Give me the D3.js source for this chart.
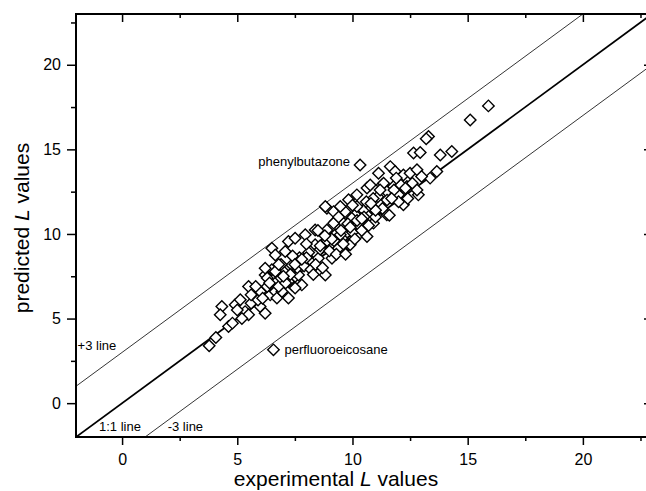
<!DOCTYPE html>
<html>
<head>
<meta charset="utf-8">
<script src="https://cdn.jsdelivr.net/npm/d3@7"></script>
<style>
body{margin:0;background:#fff;}
svg{display:block;overflow:hidden;}
text{font-family:"Liberation Sans",Arial,sans-serif;fill:#000;}
</style>
</head>
<body>
<script>
// experimental vs predicted L values
var expL=[3.78,4.07,4.33,4.26,4.62,4.79,4.91,5.13,5.34,5.49,5.70,5.85,6.21,5.99,6.43,6.65,6.72,7.01,6.50,6.21,7.37,7.51,7.22,5.49,6.72,6.57,
	6.50,6.65,8.82,8.89,7.22,7.51,7.95,8.38,9.25,9.68,10.12,9.97,9.25,9.83,8.67,9.11,7.08,6.21,6.65,7.37,7.66,7.80,7.22,8.24,7.95,8.52,7.51,6.94,8.38,8.82,9.39,9.54,10.26,
	10.33,11.13,11.64,11.85,12.21,12.50,12.80,12.86,8.82,9.18,9.47,9.83,10.19,10.63,10.77,11.28,11.49,11.93,12.36,11.20,11.49,10.99,10.48,10.19,9.97,10.33,9.61,9.47,9.90,10.63,9.18,8.89,10.91,11.93,12.21,
	11.78,13.37,13.66,12.00,11.35,12.65,12.94,13.30,13.20,13.81,14.31,15.11,15.90,
	5.0,5.2,5.6,5.9,6.0,6.3,6.1,6.8,6.9,7.1,7.3,7.6,7.7,7.9,8.1,8.2,8.4,8.6,8.7,8.9,9.0,9.2,9.3,9.5,9.6,9.8,10.0,10.1,10.2,10.4,10.5,10.7,10.8,11.0,11.1,11.3,11.5,11.6,11.8,12.0,12.1,12.4,12.6,12.8,13.0,11.9,11.2,10.9,10.6,10.0,9.4,8.5,8.0,7.4,6.9,6.3,5.8,8.3,9.7,
	5.6,6.4,7.0,7.5,8.0,8.6,9.1,9.9,10.4,11.0,11.7,12.3,6.8,7.8,8.8,10.8];
var predL=[3.39,3.88,5.71,5.22,4.53,4.73,5.81,6.11,5.41,5.22,6.70,6.30,5.32,5.71,6.40,6.60,7.19,7.78,7.88,7.58,6.99,7.48,6.21,6.89,6.21,3.15,
	9.16,8.76,7.58,11.52,9.55,9.75,9.95,10.24,10.73,11.32,11.13,10.54,9.95,9.36,9.16,8.57,8.96,7.98,7.78,8.17,7.58,6.99,7.19,8.37,8.57,8.57,6.80,6.60,9.36,9.55,9.16,9.75,9.95,
	14.08,13.59,13.98,13.69,13.49,13.59,13.79,12.31,11.62,11.32,11.62,12.02,12.31,12.71,12.90,12.90,12.51,12.41,12.80,11.82,11.13,11.32,11.42,11.62,10.93,10.44,10.64,9.95,9.36,9.85,10.64,10.24,10.64,12.02,11.72,
	12.80,13.30,13.69,12.31,13.00,14.78,14.81,15.76,15.62,14.67,14.87,16.74,17.57,
	5.5,5.0,5.9,6.1,6.6,6.9,6.2,6.9,7.4,7.1,7.6,8.0,8.6,8.1,8.9,7.9,8.2,9.1,8.0,9.6,9.0,9.6,8.8,10.2,9.4,10.6,10.1,9.7,10.8,10.2,11.0,10.5,11.6,11.0,12.2,11.5,12.0,11.1,12.6,11.9,12.9,12.1,13.0,12.6,13.4,13.3,12.6,12.1,11.9,11.7,11.0,10.2,9.4,8.7,8.2,7.4,6.9,7.6,8.8,
	6.4,7.1,7.5,8.2,8.6,9.3,9.7,10.4,10.9,11.4,12.1,12.7,8.2,8.5,9.9,11.8];
var majorTicks=[0,5,10,15,20];
var minorTicks=[2.5,7.5,12.5,17.5,22.5];
var offsets=[0,3,-3];
var lineNames=["1:1 line","+3 line","-3 line"];
var labelNames=["phenylbutazone","perfluoroeicosane"];
var labelExp=[10.33,6.57];
var labelPred=[14.08,3.15];

var W=646,H=491;
var pL=76,pT=14,pR=652,pB=437;
var x=d3.scaleLinear().domain([-2,23]).range([pL,pR]);
var y=d3.scaleLinear().domain([-2,23]).range([pB,pT]);

var svg=d3.select("body").append("svg").attr("width",W).attr("height",H);

svg.append("defs").append("clipPath").attr("id","plot")
	.append("rect").attr("x",pL).attr("y",pT).attr("width",pR-pL).attr("height",pB-pT);

var plot=svg.append("g").attr("clip-path","url(#plot)");

// reference lines
plot.selectAll("line.ref").data(offsets).enter().append("line")
	.attr("class","ref")
	.attr("x1",x(-2)).attr("x2",x(23))
	.attr("y1",function(d){return y(-2+d);})
	.attr("y2",function(d){return y(23+d);})
	.attr("stroke","#000")
	.attr("stroke-width",function(d){return d==0?1.8:0.8;});

// markers
var pts=expL.map(function(d,i){return [d,predL[i]];});
plot.selectAll("path.pt").data(pts).enter().append("path")
	.attr("class","pt")
	.attr("d",d3.symbol().type(d3.symbolSquare).size(66))
	.attr("transform",function(d){return "translate("+x(d[0])+","+y(d[1])+") rotate(45)";})
	.attr("fill","#fff").attr("stroke","#000").attr("stroke-width",1.4);

// axes
function ax(axis,tr,vals,size,pad,lab){
	var g=svg.append("g").attr("transform",tr)
		.call(axis.tickValues(vals).tickSize(size).tickPadding(pad).tickFormat(lab?d3.format("d"):""));
	g.select(".domain").remove();
	g.selectAll("line").attr("stroke-width",1.5);
	g.selectAll("text").style("font-size","16px").attr("font-family",null);
	return g;
}
ax(d3.axisBottom(x),"translate(0,"+pB+")",majorTicks,8,9,true);
ax(d3.axisBottom(x),"translate(0,"+pB+")",minorTicks,4,3,false);
ax(d3.axisTop(x),"translate(0,"+pT+")",majorTicks,-8,3,false);
ax(d3.axisTop(x),"translate(0,"+pT+")",minorTicks,-4,3,false);
ax(d3.axisLeft(y),"translate("+pL+",0)",majorTicks,9,6,true);
ax(d3.axisLeft(y),"translate("+pL+",0)",minorTicks,5,3,false);
ax(d3.axisRight(y),"translate("+pR+",0)",majorTicks,-8,3,false);
ax(d3.axisRight(y),"translate("+pR+",0)",minorTicks,-4,3,false);

svg.append("rect").attr("x",pL).attr("y",pT).attr("width",pR-pL).attr("height",pB-pT)
	.attr("fill","none").attr("stroke","#000").attr("stroke-width",2);

// axis titles
var xt=svg.append("text").attr("x",336).attr("y",486).attr("text-anchor","middle").style("font-size","21px");
xt.append("tspan").text("experimental ");
xt.append("tspan").style("font-style","italic").text("L");
xt.append("tspan").text(" values");
var yt=svg.append("text").attr("transform","translate(29,228) rotate(-90)").attr("text-anchor","middle").style("font-size","21px");
yt.append("tspan").text("predicted ");
yt.append("tspan").style("font-style","italic").text("L");
yt.append("tspan").text(" values");

// line labels
svg.append("text").attr("x",x(-1.93)).attr("y",y(3.14)).style("font-size","13px").text(lineNames[1]);
svg.append("text").attr("x",x(-1.0)).attr("y",y(-1.67)).style("font-size","13px").text(lineNames[0]);
svg.append("text").attr("x",x(1.98)).attr("y",y(-1.67)).style("font-size","13px").text(lineNames[2]);

// point labels
svg.append("text").attr("x",x(labelExp[0])-10).attr("y",y(labelPred[0])+1).attr("text-anchor","end").style("font-size","13px").text(labelNames[0]);
svg.append("text").attr("x",x(labelExp[1])+11).attr("y",y(labelPred[1])+4).style("font-size","13px").text(labelNames[1]);
</script>
</body>
</html>
